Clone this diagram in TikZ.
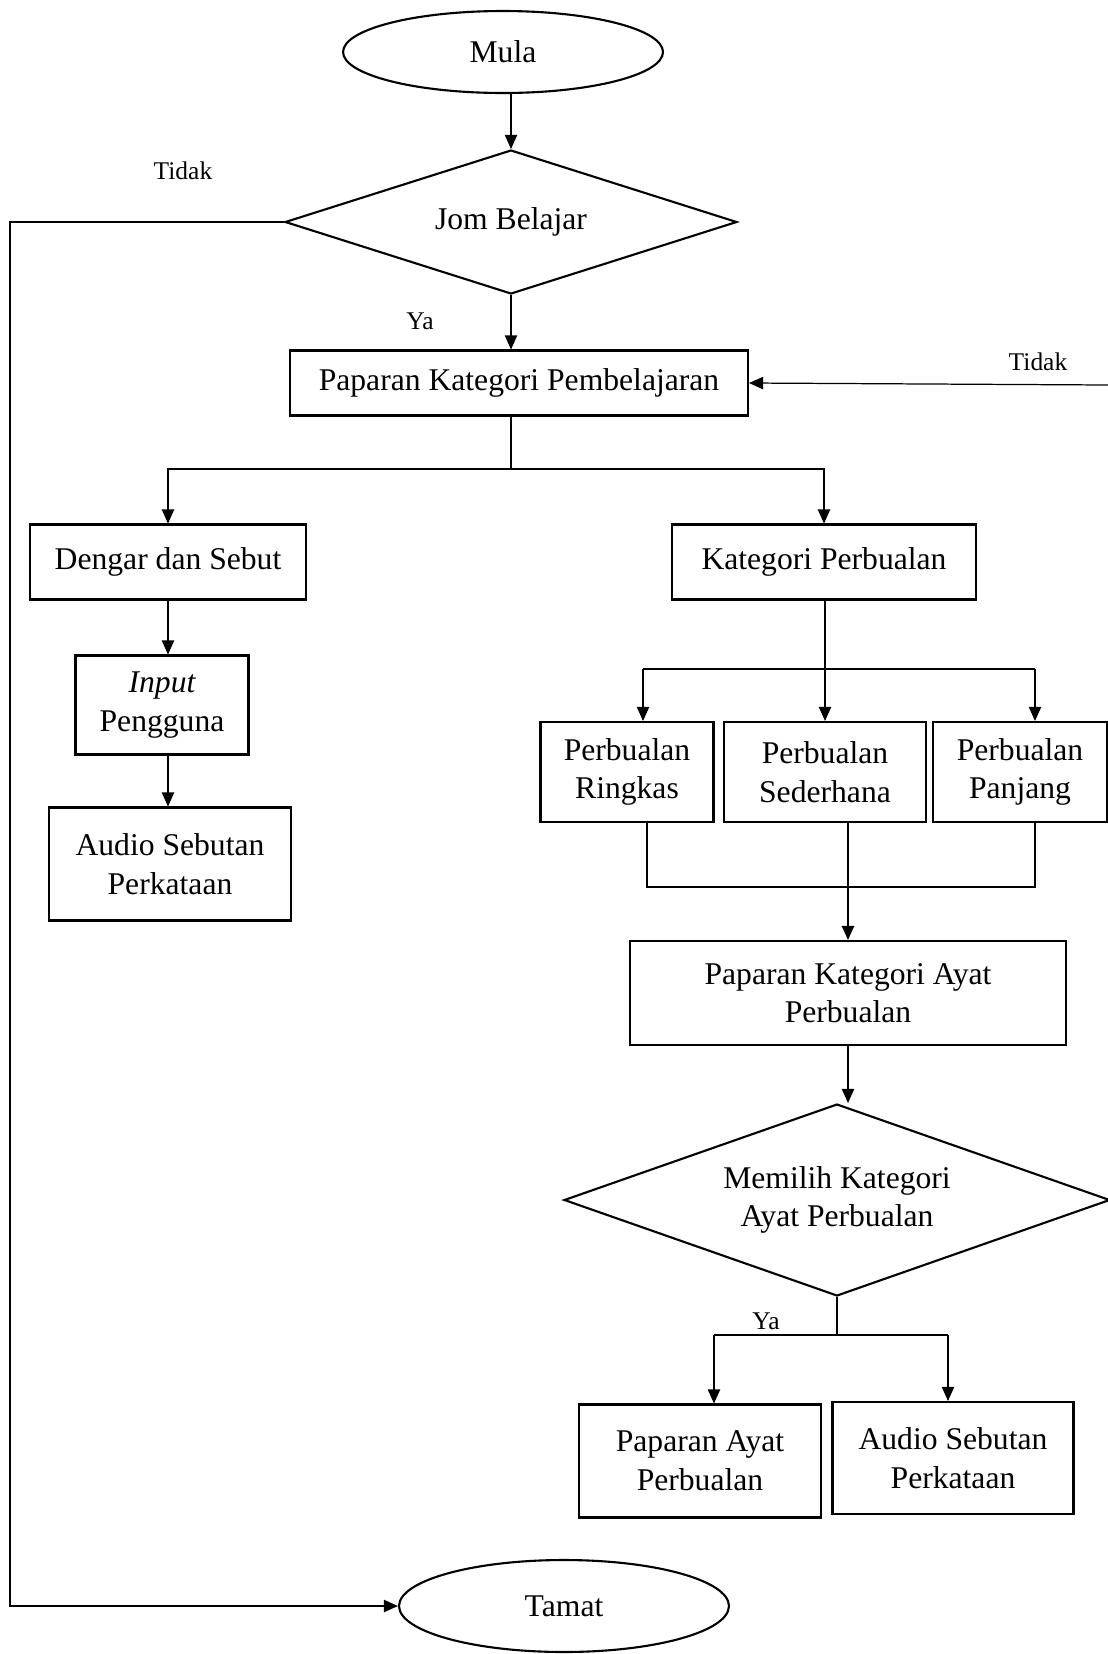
\documentclass[tikz,border=0pt]{standalone}
\usepackage{fontspec}
\setmainfont{Liberation Serif}
\usetikzlibrary{shapes.geometric,arrows.meta}

\begin{document}
\begin{tikzpicture}[x=0.02cm, y=-0.02cm,
	every node/.style={font=\fontsize{18}{22}\selectfont},
	box/.style={draw, line width=1.2pt, inner sep=0pt, align=center},
	term/.style={box, ellipse},
	decision/.style={box, diamond, aspect=3},
	lbl/.style={font=\fontsize{14.5}{17}\selectfont},
	conn/.style={line width=0.7pt},
	arr/.style={conn, -{Triangle[length=8pt,width=7pt]}}]
	
		\useasboundingbox (0, 0) rectangle (1108, 1654);
		
		\node[term, minimum width=6.4cm, minimum height=1.64cm] (mula) at (503, 52) {Mula};
		\node[decision, minimum width=9.04cm, minimum height=2.88cm] (jom) at (511, 222) {Jom Belajar};
		\node[box, minimum width=9.16cm, minimum height=1.3cm] (paparan) at (519, 383) {Paparan Kategori Pembelajaran};
		
		\node[box, minimum width=5.52cm, minimum height=1.5cm] (dengar) at (168, 562) {Dengar dan Sebut};
		\node[box, minimum width=3.46cm, minimum height=1.98cm] (input) at (162, 705) {{\itshape Input}\\Pengguna};
		\node[box, minimum width=4.84cm, minimum height=2.26cm] (audioa) at (170, 864) {Audio Sebutan\\Perkataan};
		
		\node[box, minimum width=6.08cm, minimum height=1.5cm] (kategori) at (824, 562) {Kategori Perbualan};
		\node[box, minimum width=3.46cm, minimum height=2cm] (ringkas) at (627, 772) {Perbualan\\Ringkas};
		\node[box, minimum width=4.04cm, minimum height=2cm] (sederhana) at (825, 772) {Perbualan\\Sederhana};
		\node[box, minimum width=3.48cm, minimum height=2cm] (panjang) at (1020, 772) {Perbualan\\Panjang};
		\node[box, minimum width=8.72cm, minimum height=2.08cm] (ayatkat) at (848, 993) {Paparan Kategori Ayat\\Perbualan};
		\node[decision, minimum width=10.92cm, minimum height=3.84cm] (memilih) at (837, 1200) {Memilih Kategori\\Ayat Perbualan};
		\node[box, minimum width=4.84cm, minimum height=2.26cm] (papayat) at (700, 1461) {Paparan Ayat\\Perbualan};
		\node[box, minimum width=4.82cm, minimum height=2.24cm] (audiob) at (953, 1458) {Audio Sebutan\\Perkataan};
		
		\node[term, minimum width=6.6cm, minimum height=1.84cm] (tamat) at (564, 1606) {Tamat};
		
		\node[lbl] (tidaka) at (183, 171) {Tidak};
		\node[lbl] (yaa) at (420, 321) {Ya};
		\node[lbl] (tidakb) at (1038, 362) {Tidak};
		\node[lbl] (yab) at (766, 1321) {Ya};
		
		\coordinate (lcorner) at (10, 222);
		\coordinate (rin) at (1108, 385);
		\coordinate (splita) at (511, 469);
		\coordinate (splitbl) at (643, 669);
		\coordinate (splitbr) at (1035, 669);
		\coordinate (joinl) at (647, 887);
		\coordinate (joinr) at (1035, 887);
		\coordinate (splitcl) at (714, 1335);
		\coordinate (splitcr) at (948, 1335);
		
		\draw[arr] (jom.north |- mula.south) -- (jom.north);
		\draw[arr] (jom.south) -- (jom.south |- paparan.north);
		\draw[arr] (jom.west) -- (lcorner) |- (tamat.west);
		\draw[arr] (rin) -- (paparan.east);
		
		\draw[conn] (splita |- paparan.south) -- (splita);
		\draw[arr] (splita) -| (dengar.north);
		\draw[arr] (splita) -| (kategori.north);
		\draw[arr] (dengar.south) -- (dengar.south |- input.north);
		\draw[arr] (dengar.south |- input.south) -- (dengar.south |- audioa.north);
		
		\draw[arr] (kategori.south -| sederhana.north) -- (sederhana.north);
		\draw[conn] (splitbl) -- (splitbr);
		\draw[arr] (splitbl) -- (splitbl |- ringkas.north);
		\draw[arr] (splitbr) -- (splitbr |- panjang.north);
		
		\draw[conn] (joinl |- ringkas.south) -- (joinl) -- (joinr) -- (joinr |- panjang.south);
		\draw[arr] (sederhana.south -| ayatkat.north) -- (ayatkat.north);
		\draw[arr] (ayatkat.south) -- (ayatkat.south |- memilih.north);
		
		\draw[conn] (memilih.south) -- (memilih.south |- splitcl);
		\draw[conn] (splitcl) -- (splitcr);
		\draw[arr] (splitcl) -- (splitcl |- papayat.north);
		\draw[arr] (splitcr) -- (splitcr |- audiob.north);
	\end{tikzpicture}
\end{document}
